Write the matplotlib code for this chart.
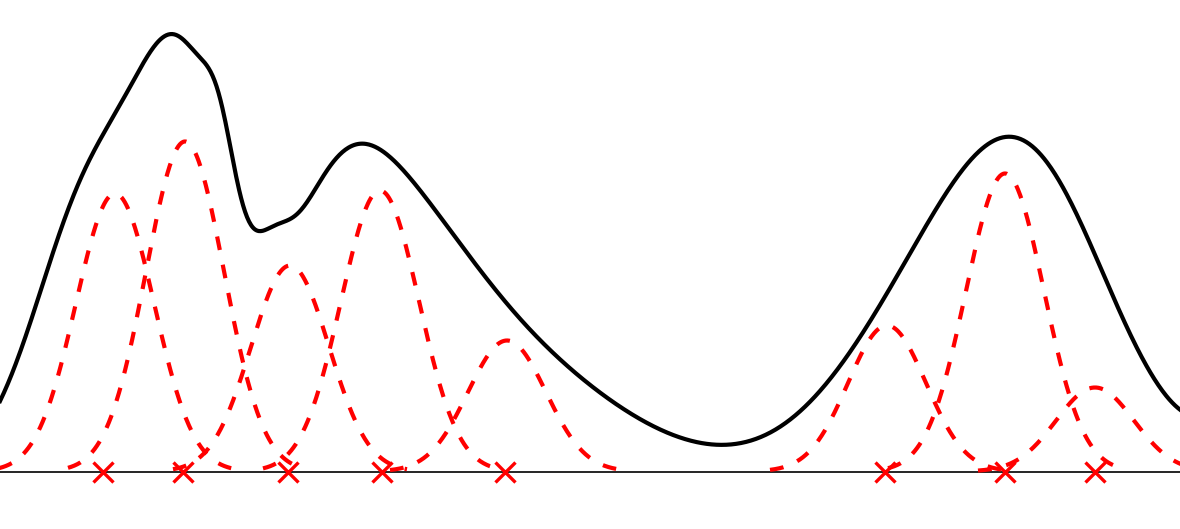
# plot.py
# Kernel density sketch: overall density curve (black), the individual
# weighted kernels (red dashed) and the sample points (red x) on the axis.
import numpy as np
import matplotlib
matplotlib.use('Agg')
import matplotlib.pyplot as plt

# sample points shown as markers on the baseline
sample_x = [1.03, 1.83, 2.88, 3.82, 5.05, 8.85, 10.05, 10.95]

# individual kernels (red dashed): centre, peak height, common bandwidth
kernel_center = [1.15, 1.85, 2.90, 3.80, 5.07, 8.87, 10.05, 10.95]
kernel_height = [2.78, 3.30, 2.06, 2.81, 1.31, 1.46, 2.98, 0.84]
kernel_bw = 0.39
kernel_reach = 3.0  # each kernel drawn out to +/- 3 bandwidths

# overall density (black) as a mixture of gaussian components
dens_height = [2.769, 3.347, 0.522, 0.301, 1.099, 1.668, 1.245, 1.463, 2.536, 16.528]
dens_center = [0.934, 1.853, 2.196, 2.730, 3.263, 3.797, 4.801, 9.262, 10.356, 14.049]
dens_width = [0.564, 0.450, 0.150, 0.171, 0.544, 0.793, 1.195, 0.889, 0.800, 0.701]

x_min, x_max = 0.0, 11.8


def gauss(x, h, c, s):
    return h * np.exp(-(x - c) ** 2 / (2 * s ** 2))


fig = plt.figure(figsize=(11.8, 5.29))
ax = fig.add_axes([0, 0, 1, 1])

# overall density
xx = np.linspace(x_min, x_max, 1200)
total = np.zeros_like(xx)
for h, c, s in zip(dens_height, dens_center, dens_width):
    total += gauss(xx, h, c, s)
ax.plot(xx, total, color='black', linewidth=3, zorder=3)

# individual kernels
for c, h in zip(kernel_center, kernel_height):
    xk = np.linspace(c - kernel_reach * kernel_bw, c + kernel_reach * kernel_bw, 300)
    ax.plot(xk, gauss(xk, h, c, kernel_bw), color='red', linewidth=3,
            linestyle=(0, (3.3, 3.6)), zorder=2)

# baseline and samples
ax.axhline(0, color='black', linewidth=1.2, zorder=1)
ax.plot(sample_x, np.zeros(len(sample_x)), linestyle='none', marker='x',
        markersize=14, markeredgewidth=2.4, color='red', zorder=4, clip_on=False)

ax.set_xlim(x_min, x_max)
ax.set_ylim(-0.575, 4.715)
ax.axis('off')

plt.savefig('out.png', dpi=100)
